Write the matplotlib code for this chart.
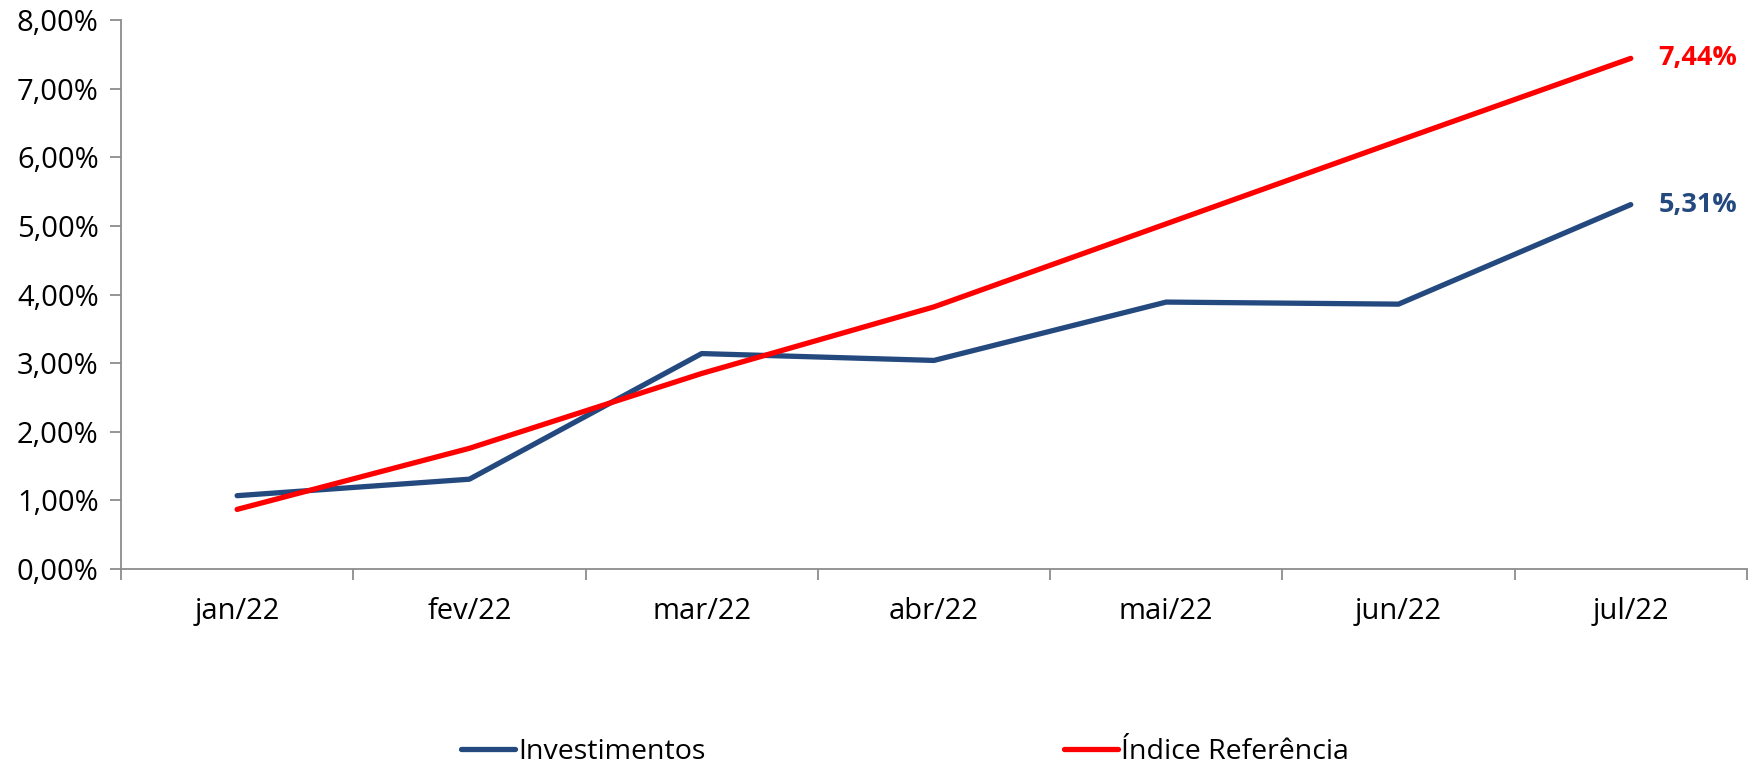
import numpy as np
import matplotlib
matplotlib.use("Agg")
import matplotlib.pyplot as plt
from matplotlib.ticker import FuncFormatter, FixedLocator

plt.rcParams['font.family'] = ['Open Sans', 'DejaVu Sans']

meses = ["jan/22", "fev/22", "mar/22", "abr/22", "mai/22", "jun/22", "jul/22"]
investimentos = [1.07, 1.31, 3.14, 3.04, 3.89, 3.86, 5.31]
indice_ref = [0.87, 1.76, 2.85, 3.82, 5.03, 6.24, 7.44]

azul = "#24497F"
vermelho = "#FF0000"
cinza = "#8C8C8C"

fig = plt.figure(figsize=(17.61, 7.66), dpi=100)
ax = fig.add_axes([0.0687, 0.257, 0.9233, 0.717])

x = np.arange(len(meses))
ax.plot(x, investimentos, color=azul, lw=3.8, solid_capstyle='round', label="Investimentos")
ax.plot(x, indice_ref, color=vermelho, lw=3.8, solid_capstyle='round', label="Índice Referência")

# rotulos do ultimo ponto
ax.annotate("7,44%", (x[-1], indice_ref[-1]), xytext=(20, 0), textcoords='offset points',
            color=vermelho, fontsize=19.5, fontweight='bold', va='center', ha='left')
ax.annotate("5,31%", (x[-1], investimentos[-1]), xytext=(20, 0), textcoords='offset points',
            color=azul, fontsize=19.5, fontweight='bold', va='center', ha='left')

ax.set_xlim(-0.5, len(meses) - 0.5)
ax.set_ylim(0, 8)
ax.set_yticks(np.arange(0, 9, 1))
ax.yaxis.set_major_formatter(FuncFormatter(lambda v, p: ("%.2f%%" % v).replace(".", ",")))

# ticks do eixo x nas divisas das categorias (estilo Excel)
ax.xaxis.set_major_locator(FixedLocator(x))
ax.set_xticklabels(meses)
ax.xaxis.set_minor_locator(FixedLocator(np.arange(-0.5, len(meses), 1)))
ax.tick_params(axis='x', which='major', length=0, pad=20, labelsize=21)
ax.tick_params(axis='x', which='minor', length=8, color=cinza, width=1.3, direction='out')
ax.tick_params(axis='y', length=8, color=cinza, width=1.3, labelsize=21, pad=8)

for s in ['top', 'right']:
    ax.spines[s].set_visible(False)
for s in ['left', 'bottom']:
    ax.spines[s].set_color(cinza)
    ax.spines[s].set_linewidth(1.3)

fig.legend(loc='center', bbox_to_anchor=(0.514, 0.018), ncol=2, frameon=False,
           fontsize=20.5, handlelength=1.9, handletextpad=0.1, columnspacing=12.6)

fig.savefig("out.png", dpi=100)
